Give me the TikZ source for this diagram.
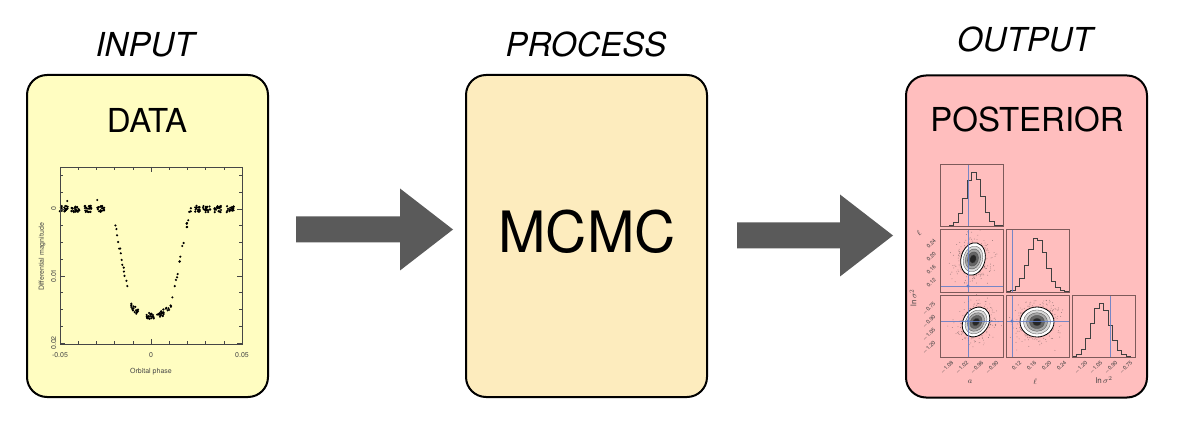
\documentclass[tikz,border=0pt]{standalone}
\usepackage{fontspec}
\setmainfont{TeX Gyre Heros}
\definecolor{inyellow}{RGB}{255,253,193}
\definecolor{procbeige}{RGB}{253,236,190}
\definecolor{outpink}{RGB}{255,190,190}
\definecolor{arrowgray}{RGB}{90,90,90}
\definecolor{framegray}{RGB}{70,70,70}
\definecolor{panelframe}{RGB}{125,90,90}
\definecolor{truthblue}{RGB}{95,125,200}
\newcommand\blockarrow[3]{% x start, x tip, y centre
  \fill[arrowgray] (#1,#3-13) -- (#2-53,#3-13) -- (#2-53,#3-41) -- (#2,#3)
    -- (#2-53,#3+41) -- (#2-53,#3+13) -- (#1,#3+13) -- cycle;}
\newcommand\histo[4]{% x0, y0, mu, sigma
  \draw[histline] (#1,#2+62) \foreach \i [evaluate=\i as \yy using
    {#2+62-54*exp(-0.5*((#1+4.5*(\i+0.5)-#3)/#4)*((#1+4.5*(\i+0.5)-#3)/#4))}]
    in {0,...,13} { -- ({#1+4.5*\i},\yy) -- ({#1+4.5*(\i+1)},\yy) } -- (#1+63,#2+62);}
\newcommand\cloud[5]{% cx, cy, sx, sy, rot
  \begin{scope}[shift={(#1,#2)}, rotate=#5]
    \foreach \k in {1,...,320}{%
      \pgfmathsetmacro\dx{(rand+rand+rand)*#3}%
      \pgfmathsetmacro\dy{(rand+rand+rand)*#4}%
      \fill[black!80, opacity=0.5] (\dx,\dy) circle (0.45pt);}
  \end{scope}}
\newcommand\contours[5]{% cx, cy, rx, ry, rot
  \begin{scope}[shift={(#1,#2)}, rotate=#5]
    \filldraw[fill=white, draw=black, line width=0.8pt] (0,0) ellipse [x radius=#3pt, y radius=#4pt];
    \foreach \f/\c in {0.8/black!15, 0.62/black!35, 0.44/black!60, 0.26/black!85}{%
      \filldraw[fill=\c, draw=black!70, line width=0.3pt] (0,0) ellipse [x radius={\f*#3pt}, y radius={\f*#4pt}];}
  \end{scope}}
\begin{document}
\begin{tikzpicture}[x=1pt,y=-1pt,
  box/.style={draw=black, line width=2pt, rounded corners=20pt, minimum width=241pt,
    minimum height=322pt, inner sep=0pt},
  titletext/.style={font=\fontsize{33}{36}\selectfont\itshape, anchor=base},
  headtext/.style={font=\fontsize{33}{36}\selectfont, anchor=base},
  ticklab/.style={font=\fontsize{7}{8}\selectfont, text=framegray, inner sep=0.5pt},
  cornerlab/.style={font=\fontsize{5.5}{6}\selectfont, text=black!75, inner sep=0.2pt},
  histline/.style={draw=black!75, line width=0.6pt},
  panel/.style={draw=panelframe, line width=0.7pt},
  truth/.style={draw=truthblue, line width=0.5pt, opacity=0.85}]
\useasboundingbox (0,0) rectangle (1180,435);
\fill[white] (0,0) rectangle (1180,435);

% boxes
\node[box, fill=inyellow] (inbox) at (147.5,236) {};
\node[box, fill=procbeige] (procbox) at (586.5,236) {};
\node[box, fill=outpink] (outbox) at (1026.5,236.5) {};

% titles
\node[titletext] (intitle) at (145,57) {INPUT};
\node[titletext] (proctitle) at (586,57) {PROCESS};
\node[titletext] (outtitle) at (1025,52) {OUTPUT};
\node[headtext] (datalabel) at (147,133) {DATA};
\node[headtext] (postlabel) at (1027,132) {POSTERIOR};
\node[font=\fontsize{57}{60}\selectfont, anchor=base] (mcmc) at (587,253) {MCMC};

% arrows
\blockarrow{296}{453}{229.5}
\blockarrow{737}{893}{235.5}

% ---- light curve ----
\pgfmathsetseed{4242}
\foreach \cc/\ww/\nn in {-48/2.3/22,-41.5/2.3/22,-34.5/2.3/22,-27.5/2.0/18,
   -16.5/3.5/14,-9/2/18,-0.5/2/20,5/2/18,13/5/18,20.8/1.3/9,
   25.5/1.5/16,30.5/2/18,36.5/2/18,43.5/2/18}{%
  \foreach \i in {1,...,\nn}{%
    \pgfmathsetmacro\uu{\cc+\ww*rand}%
    \pgfmathsetmacro\lin{97.15*max(21.5-abs(\uu),0)/10.5}%
    \pgfmathsetmacro\qd{max(107.2-10.05*(\uu/11)*(\uu/11),97.15)}%
    \pgfmathsetmacro\mm{min(\lin,\qd)+3.2*rand}%
    \fill[black] ({151+1.82*\uu},{209+\mm}) circle (1.2pt);}}
\fill[black] ({151+1.82*(-46)},201) circle (1.1pt);
\fill[black] ({151+1.82*(-29.5)},200) circle (1.1pt);

\draw[framegray, line width=0.7pt] (60,167) rectangle (242,344);
\foreach \u in {-40,-30,...,40}{%
  \draw[framegray, line width=0.5pt] ({151+1.82*\u},344) -- ({151+1.82*\u},341);
  \draw[framegray, line width=0.5pt] ({151+1.82*\u},167) -- ({151+1.82*\u},170);}
\foreach \u in {-50,0,50}{%
  \draw[framegray, line width=0.5pt] ({151+1.82*\u},344) -- ({151+1.82*\u},339);
  \draw[framegray, line width=0.5pt] ({151+1.82*\u},167) -- ({151+1.82*\u},172);}
\foreach \m in {-5,-2.5,2.5,5,7.5,12.5,15,17.5}{%
  \draw[framegray, line width=0.5pt] (60,{209+6.7*\m}) -- (63,{209+6.7*\m});
  \draw[framegray, line width=0.5pt] (242,{209+6.7*\m}) -- (239,{209+6.7*\m});}
\foreach \m in {0,10,20}{%
  \draw[framegray, line width=0.5pt] (60,{209+6.7*\m}) -- (65,{209+6.7*\m});
  \draw[framegray, line width=0.5pt] (242,{209+6.7*\m}) -- (237,{209+6.7*\m});}
\node[ticklab, anchor=north] (xl1) at (60,352) {-0.05};
\node[ticklab, anchor=north] (xl2) at (151,352) {0};
\node[ticklab, anchor=north] (xl3) at (242,352) {0.05};
\node[ticklab, rotate=90, anchor=south] (yl1) at (57,209) {0};
\node[ticklab, rotate=90, anchor=south] (yl2) at (57,276) {0.01};
\node[ticklab, rotate=90, anchor=south] (yl3) at (57,343) {0.02};
\node[ticklab, anchor=north] (xaxis) at (151,368) {Orbital phase};
\node[ticklab, rotate=90] (yaxis) at (42,257) {Differential magnitude};

% ---- corner plot ----
\pgfmathsetseed{77}
\begin{scope}
\clip (940,229.5) rectangle (1003,292);
\cloud{973}{259}{9}{11}{-15}
\end{scope}
\begin{scope}
\clip (940,295) rectangle (1003,357.5);
\cloud{976}{322}{9.5}{11}{-35}
\end{scope}
\begin{scope}
\clip (1006,295) rectangle (1069,357.5);
\cloud{1037}{322}{11}{10}{0}
\end{scope}
\contours{973}{259}{12}{16.5}{-15}
\contours{976}{322}{12.5}{16}{-35}
\contours{1037}{322}{17}{15}{0}
% histograms
\histo{940}{164}{974}{8}
\histo{1006}{229.5}{1037}{9}
\histo{1072}{295}{1101}{9}
% truth lines
\draw[truth] (968,164) -- (968,226);
\draw[truth] (968,229.5) -- (968,292.5);
\draw[truth] (940,286) -- (1003,286);
\draw[truth] (968,295) -- (968,358);
\draw[truth] (940,321) -- (1003,321);
\draw[truth] (1012,229.5) -- (1012,292.5);
\draw[truth] (1012,295) -- (1012,358);
\draw[truth] (1006,321) -- (1069,321);
\draw[truth] (1110,295) -- (1110,358);
\fill[truthblue] (968,286) circle (1.6pt);
\fill[truthblue] (968,321) circle (1.6pt);
\fill[truthblue] (1012,321) circle (1.6pt);
% panels
\draw[panel] (940,164) rectangle (1003,226.5);
\draw[panel] (940,229.5) rectangle (1003,292);
\draw[panel] (1006,229.5) rectangle (1069,292);
\draw[panel] (940,295) rectangle (1003,357.5);
\draw[panel] (1006,295) rectangle (1069,357.5);
\draw[panel] (1072,295) rectangle (1135,357.5);
% tick labels
\foreach \x/\t in {948/{$-$1.08},963/{$-$1.02},978/{$-$0.96},993/{$-$0.90},
   1016/{0.12},1031/{0.16},1046/{0.20},1061/{0.24},
   1082/{$-$1.20},1097/{$-$1.05},1112/{$-$0.90},1127/{$-$0.75}}{%
  \node[cornerlab, rotate=45, anchor=north east] at (\x+3,360) {\t};}
\foreach \y/\t in {238/{0.24},251/{0.20},264/{0.16},277/{0.12},
   302/{$-$0.75},315/{$-$0.90},328/{$-$1.05},341/{$-$1.20}}{%
  \node[cornerlab, rotate=45, anchor=south east] at (937,\y+3) {\t};}
\node[cornerlab, font=\fontsize{8}{8}\selectfont] (alab) at (970,382) {$a$};
\node[cornerlab, font=\fontsize{8}{8}\selectfont] (llab) at (1035,382) {$\ell$};
\node[cornerlab, font=\fontsize{8}{8}\selectfont] (slab) at (1104,380) {$\ln\sigma^2$};
\node[cornerlab, font=\fontsize{8}{8}\selectfont, rotate=45] (llab2) at (919,233) {$\ell$};
\node[cornerlab, font=\fontsize{8}{8}\selectfont, rotate=90] (slab2) at (913,298) {$\ln\sigma^2$};
\end{tikzpicture}
\end{document}
